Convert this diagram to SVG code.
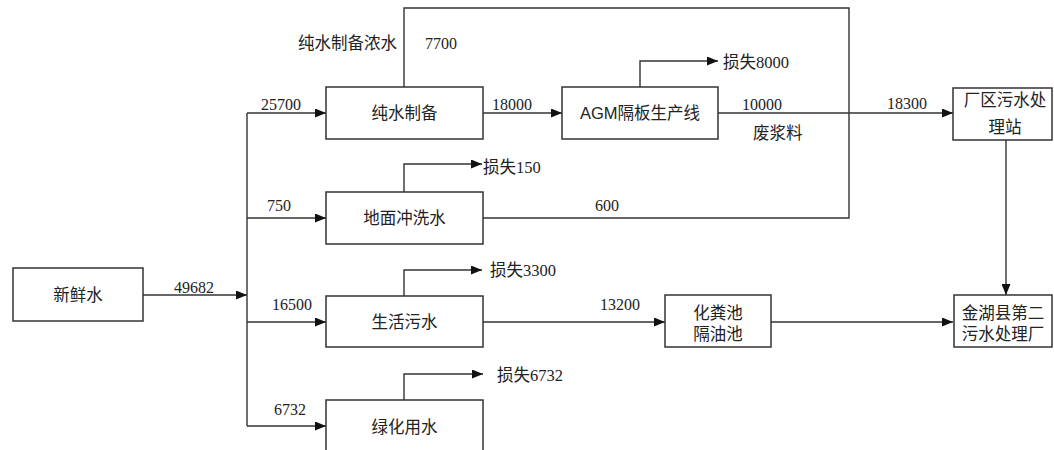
<svg xmlns="http://www.w3.org/2000/svg" width="1054" height="450" viewBox="0 0 1054 450">
<style>
.box{fill:#fff;stroke:#333;stroke-width:1.5}
.ln{fill:none;stroke:#333;stroke-width:1.4}
.ar{marker-end:url(#ah)}
text{font-family:"Liberation Serif","Noto Sans CJK SC",serif;font-size:16px;fill:#222}
.zh{font-size:16.5px}
.c{text-anchor:middle}
.sans{font-family:"Liberation Sans","Noto Sans CJK SC",sans-serif}
</style>
<defs>
<marker id="ah" markerWidth="11" markerHeight="9" refX="11" refY="4.5" orient="auto" markerUnits="userSpaceOnUse">
<path d="M0,0 L11,4.5 L0,9 Z" fill="#111"/>
</marker>
</defs>
<rect width="1054" height="450" fill="#fff"/>
<g id="connectors">
<path class="ln ar" d="M143,295 H247"/>
<path class="ln" d="M247,113 V426"/>
<path class="ln ar" d="M247,113 H326"/>
<path class="ln ar" d="M247,218 H326"/>
<path class="ln ar" d="M247,322 H326"/>
<path class="ln ar" d="M247,426 H326"/>
<path class="ln ar" d="M483,113 H562"/>
<path class="ln ar" d="M718,113 H953"/>
<path class="ln" d="M404,87 V8 H849 V218 H483"/>
<path class="ln ar" d="M640,87 V61 H718"/>
<path class="ln ar" d="M404,192 V164 H482"/>
<path class="ln ar" d="M404,296 V270 H482"/>
<path class="ln ar" d="M404,400 V374 H483"/>
<path class="ln ar" d="M483,322 H665"/>
<path class="ln ar" d="M771,322 H953"/>
<path class="ln ar" d="M1006,140 V295"/>
</g>
<g id="labels">
<text class="zh" x="298" y="49">纯水制备浓水</text>
<text x="425" y="49">7700</text>
<text x="261" y="110">25700</text>
<text x="492" y="110">18000</text>
<text x="742" y="110">10000</text>
<text x="887" y="109">18300</text>
<text class="zh" x="753" y="139">废浆料</text>
<text class="zh" x="723" y="68">损失8000</text>
<text x="267" y="211">750</text>
<text class="zh" x="483" y="173">损失150</text>
<text x="595" y="211">600</text>
<text x="174" y="293">49682</text>
<text x="272" y="310">16500</text>
<text x="600" y="310">13200</text>
<text class="zh" x="490" y="276">损失3300</text>
<text x="274" y="415">6732</text>
<text class="zh" x="497" y="381">损失6732</text>
</g>
<g id="n-xinxianshui">
<rect class="box" x="13" y="268" width="130" height="53"/>
<text class="zh c" x="78" y="301">新鲜水</text>
</g>
<g id="n-chunshui">
<rect class="box" x="326" y="87" width="157" height="52"/>
<text class="zh c" x="404.5" y="119">纯水制备</text>
</g>
<g id="n-agm">
<rect class="box" x="562" y="87" width="156" height="52"/>
<text class="zh c" x="640" y="119"><tspan class="sans">AGM</tspan>隔板生产线</text>
</g>
<g id="n-changqu">
<rect class="box" x="953" y="88" width="99" height="52"/>
<text class="zh c" x="1005" y="106">厂区污水处</text>
<text class="zh c" x="1005" y="133">理站</text>
</g>
<g id="n-dimian">
<rect class="box" x="326" y="192" width="157" height="52"/>
<text class="zh c" x="404.5" y="224">地面冲洗水</text>
</g>
<g id="n-shenghuo">
<rect class="box" x="326" y="296" width="157" height="51"/>
<text class="zh c" x="404.5" y="328">生活污水</text>
</g>
<g id="n-huafenchi">
<rect class="box" x="665" y="295" width="106" height="52"/>
<text class="zh c" x="718" y="319">化粪池</text>
<text class="zh c" x="718" y="340">隔油池</text>
</g>
<g id="n-jinhu">
<rect class="box" x="954" y="295" width="98" height="52"/>
<text class="zh c" x="1003" y="319">金湖县第二</text>
<text class="zh c" x="1003" y="340">污水处理厂</text>
</g>
<g id="n-lvhua">
<rect class="box" x="326" y="400" width="157" height="60"/>
<text class="zh c" x="404.5" y="433">绿化用水</text>
</g>
</svg>
